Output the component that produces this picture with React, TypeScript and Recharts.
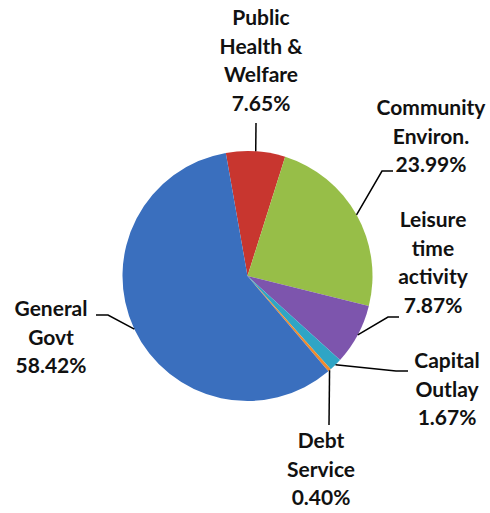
import { PieChart, Pie, Cell } from 'recharts';

// Budget share by function, in the order drawn clockwise from just left of 12 o'clock
const categories = [
  'Public Health & Welfare',
  'Community Environ.',
  'Leisure time activity',
  'Capital Outlay',
  'Debt Service',
  'General Govt',
];
const shares = [7.65, 23.99, 7.87, 1.67, 0.4, 58.42];
const sliceColors = ['#C8362F', '#97BE48', '#7D55AD', '#2FA5C5', '#F08A2C', '#3A6FBE'];

// How each label is broken into lines (the percent is added as the last line)
const labelLines = [
  ['Public', 'Health &', 'Welfare'],
  ['Community', 'Environ.'],
  ['Leisure', 'time', 'activity'],
  ['Capital', 'Outlay'],
  ['Debt', 'Service'],
  ['General', 'Govt'],
];

const data = categories.map((name, i) => ({ name, value: shares[i] }));

// Where each callout sits: text centre/first baseline and leader line path
const labelLayout: Record<string, { x: number; y: number; elbow?: [number, number]; end: [number, number] }> = {
  'Public Health & Welfare': { x: 261, y: 25, end: [256, 123] },
  'Community Environ.': { x: 431, y: 115, elbow: [382, 171], end: [393, 171] },
  'Leisure time activity': { x: 433, y: 227, elbow: [388, 317], end: [399, 317] },
  'Capital Outlay': { x: 447, y: 368, elbow: [396, 371], end: [408, 371] },
  'Debt Service': { x: 321, y: 448, end: [329, 425] },
  'General Govt': { x: 51, y: 316, elbow: [108, 315], end: [96, 315] },
};

const RAD = Math.PI / 180;
const LINE_H = 28.5;

const renderLabel = (props: any) => {
  const { cx, cy, midAngle, outerRadius, index, name, value } = props;
  const layout = labelLayout[name];
  if (!layout) return null;
  const sx = cx + outerRadius * Math.cos(-midAngle * RAD);
  const sy = cy + outerRadius * Math.sin(-midAngle * RAD);
  const pts = [[sx, sy], ...(layout.elbow ? [layout.elbow] : []), layout.end];
  const lines = [...labelLines[index], `${Number(value).toFixed(2)}%`];
  return (
    <g>
      <polyline
        points={pts.map((p) => p.join(',')).join(' ')}
        fill="none"
        stroke="#000"
        strokeWidth={1.5}
      />
      <text
        x={layout.x}
        y={layout.y}
        textAnchor="middle"
        fontFamily="Lato, 'Open Sans', sans-serif"
        fontWeight="bold"
        fontSize={21}
        fill="#111"
      >
        {lines.map((line, i) => (
          <tspan key={i} x={layout.x} dy={i === 0 ? 0 : LINE_H}>
            {line}
          </tspan>
        ))}
      </text>
    </g>
  );
};

export default function App() {
  return (
    <div style={{ position: 'absolute', left: 0, top: 0, width: 490, height: 513, background: '#fff' }}>
      <PieChart width={490} height={513} margin={{ top: 0, right: 0, bottom: 0, left: 0 }}>
        <Pie
          data={data}
          dataKey="value"
          nameKey="name"
          cx={247.5}
          cy={276}
          outerRadius={125}
          startAngle={100}
          endAngle={-260}
          stroke="none"
          label={renderLabel}
          labelLine={false}
          isAnimationActive={false}
        >
          {data.map((d, i) => (
            <Cell key={d.name} fill={sliceColors[i]} />
          ))}
        </Pie>
      </PieChart>
    </div>
  );
}
